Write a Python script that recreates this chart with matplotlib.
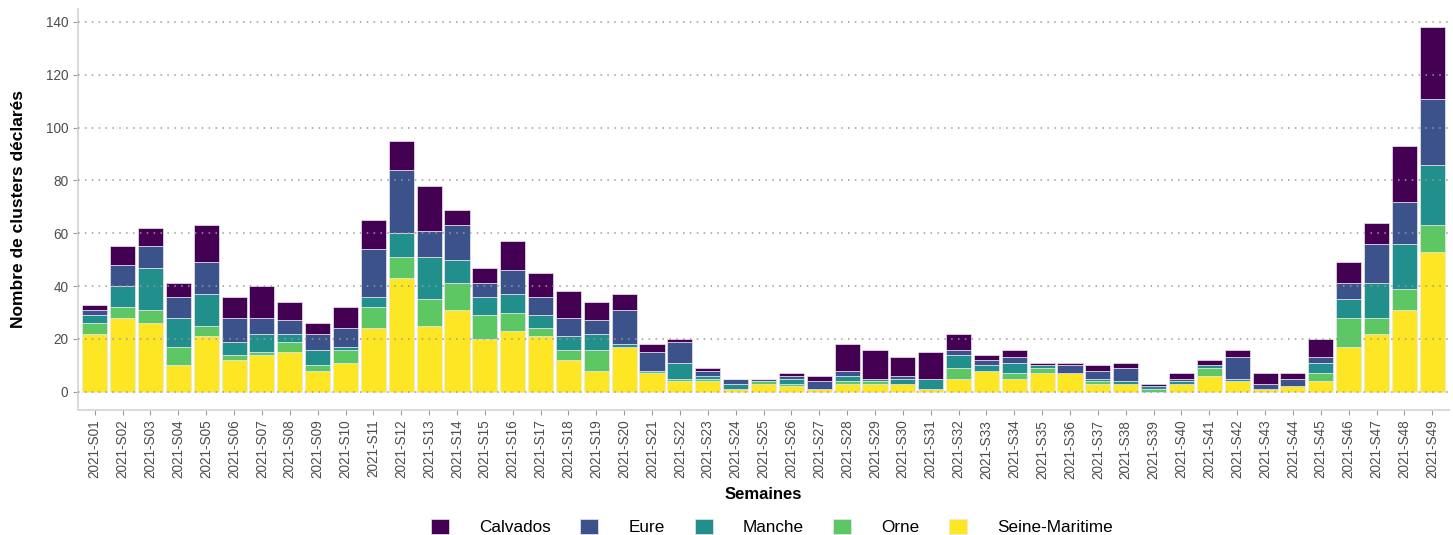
import numpy as np
import matplotlib
matplotlib.use("Agg")
import matplotlib.pyplot as plt
from matplotlib.patches import Patch

plt.rcParams['font.family'] = ['Liberation Sans', 'DejaVu Sans']

weeks = ["2021-S%02d" % i for i in range(1, 50)]

seine_maritime = [22, 28, 26, 10, 21, 12, 14, 15, 8, 11,
                  24, 43, 25, 31, 20, 23, 21, 12, 8, 17,
                  7, 4, 4, 1, 3, 2, 1, 3, 3, 3,
                  1, 5, 8, 5, 7, 7, 3, 3, 0, 3,
                  6, 4, 1, 2, 4, 17, 22, 31, 53]
orne = [4, 4, 5, 7, 4, 2, 1, 4, 2, 5,
        8, 8, 10, 10, 9, 7, 3, 4, 8, 0,
        1, 1, 1, 0, 1, 1, 0, 1, 1, 0,
        0, 4, 0, 2, 2, 0, 1, 0, 1, 0,
        3, 0, 0, 0, 3, 11, 6, 8, 10]
manche = [3, 8, 16, 11, 12, 5, 7, 3, 6, 1,
          4, 9, 16, 9, 7, 7, 5, 5, 6, 1,
          0, 6, 1, 2, 0, 2, 0, 2, 1, 2,
          4, 5, 2, 4, 1, 0, 1, 1, 1, 1,
          1, 1, 0, 0, 4, 7, 13, 17, 23]
eure = [2, 8, 8, 8, 12, 9, 6, 5, 6, 7,
        18, 24, 10, 13, 5, 9, 7, 7, 5, 13,
        7, 8, 2, 2, 1, 1, 3, 2, 0, 1,
        0, 2, 2, 2, 0, 3, 3, 5, 0, 1,
        0, 8, 2, 3, 2, 6, 15, 16, 25]
calvados = [2, 7, 7, 5, 14, 8, 12, 7, 4, 8,
            11, 11, 17, 6, 6, 11, 9, 10, 7, 6,
            3, 1, 1, 0, 0, 1, 2, 10, 11, 7,
            10, 6, 2, 3, 1, 1, 2, 2, 1, 2,
            2, 3, 4, 2, 7, 8, 8, 21, 27]

# stacking order from the bottom up
series = [("Seine-Maritime", seine_maritime, "#FDE725"),
          ("Orne", orne, "#5DC863"),
          ("Manche", manche, "#21908C"),
          ("Eure", eure, "#3B528B"),
          ("Calvados", calvados, "#440154")]

fig = plt.figure(figsize=(14.53, 5.35), dpi=100)
ax = fig.add_axes([78 / 1453, 1 - 410 / 535, (1449 - 78) / 1453, (410 - 9) / 535])

x = np.arange(len(weeks))
bottom = np.zeros(len(weeks))
for name, vals, col in series:
    vals = np.array(vals, dtype=float)
    ax.bar(x, vals, bottom=bottom, width=0.9, color=col,
           edgecolor="#EDE6F0", linewidth=0.5, zorder=2)
    bottom += vals

ax.set_xlim(-0.6, len(weeks) - 0.4)
ax.set_ylim(-6.9, 144.9)
ax.set_yticks(np.arange(0, 141, 20))
ax.set_xticks(x)
ax.set_xticklabels(weeks, rotation=90)

# dotted grid drawn over the bars
for yv in np.arange(0, 141, 20):
    ax.axhline(yv, color="#9A9A9A", linestyle=(0, (1, 3.5)), linewidth=1.1, zorder=3)

for s in ["top", "right"]:
    ax.spines[s].set_visible(False)
for s in ["left", "bottom"]:
    ax.spines[s].set_color("#D9D9D9")
    ax.spines[s].set_linewidth(1.4)

ax.tick_params(axis="both", colors="#9A9A9A", labelcolor="#4D4D4D",
               labelsize=9.8, length=3.5, width=0.8)

ax.set_ylabel("Nombre de clusters déclarés", fontsize=12.5, fontweight="bold", labelpad=14)
ax.set_xlabel("Semaines", fontsize=12, fontweight="bold", labelpad=6)

handles = [Patch(facecolor=col, edgecolor="#EDE6F0", linewidth=0.5, label=name)
           for name, vals, col in reversed(series)]
fig.legend(handles=handles, loc="center", bbox_to_anchor=(772 / 1453, 1 - 527 / 535),
           ncol=5, frameon=False, fontsize=12.3, handlelength=1.05, handleheight=1.05,
           handletextpad=1.75, columnspacing=1.75, borderpad=0)

fig.savefig("out.png", dpi=100)
